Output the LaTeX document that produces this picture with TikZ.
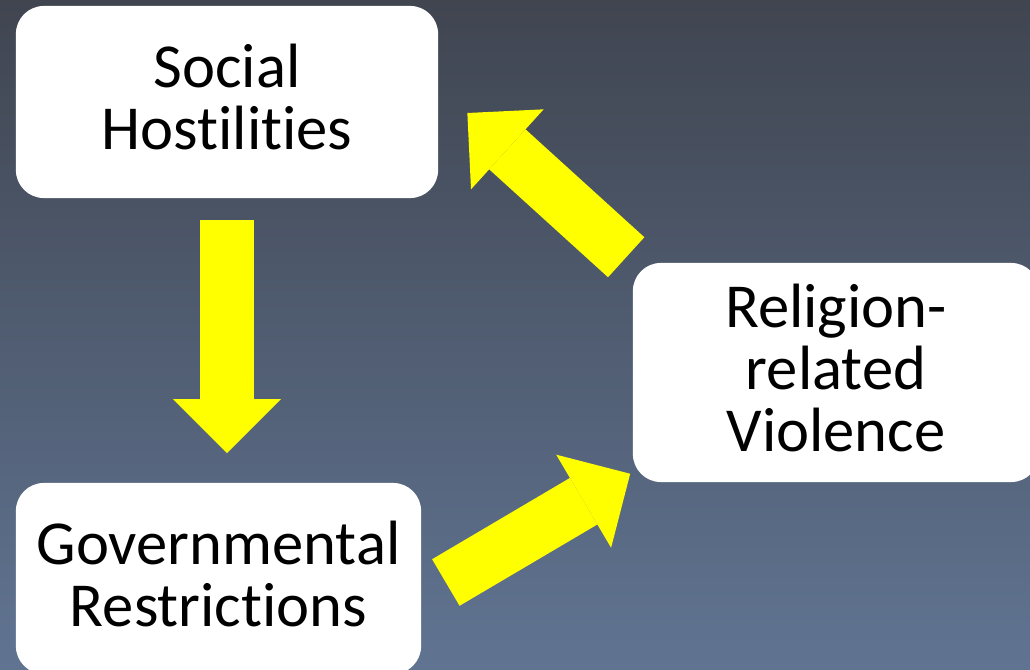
\documentclass[tikz,border=0pt]{standalone}
\usepackage{fontspec}
\setmainfont{Carlito}[Ligatures=NoCommon]
\usetikzlibrary{arrows.meta}
\definecolor{bgtop}{RGB}{64,69,80}
\definecolor{bgbottom}{RGB}{96,116,146}
\definecolor{arrowyellow}{RGB}{255,255,0}

\begin{document}
\begin{tikzpicture}[x=0.01cm,y=-0.01cm,
  box/.style={fill=white,rounded corners=0.28cm,align=center,inner sep=0pt,
    text depth=0.1cm,font=\fontsize{17.8}{17.6}\selectfont},
  bigarrow/.style={draw=arrowyellow,line width=0.54cm,
    -{Triangle[length=0.54cm,width=1.08cm,line width=0pt]}}]
\clip (0,0) rectangle (1030,670);
\shade[top color=bgtop,bottom color=bgbottom] (0,0) rectangle (1030,670);

% the three boxes
\node[box,minimum width=4.22cm,minimum height=1.92cm] (social) at (227,102) {Social\\Hostilities};
\node[box,minimum width=4.05cm,minimum height=1.91cm] (gov) at (218.5,578.5) {Governmental\\Restrictions};
\node[box,minimum width=4.06cm,minimum height=2.19cm] (rel) at (836,372.5) {Religion-\\related\\Violence};

% block arrows
\draw[bigarrow,shorten <=0.21cm,shorten >=0.29cm] (social.south) -- (social.south |- gov.north);
\draw[bigarrow] ([xshift=0.24cm,yshift=-0.04cm]gov.east) -- ([xshift=-0.02cm,yshift=0.09cm]rel.south west);
\draw[bigarrow] ([xshift=-0.06cm,yshift=0.05cm]rel.north west) -- ([xshift=0.285cm,yshift=-0.11cm]social.east);

\end{tikzpicture}
\end{document}
